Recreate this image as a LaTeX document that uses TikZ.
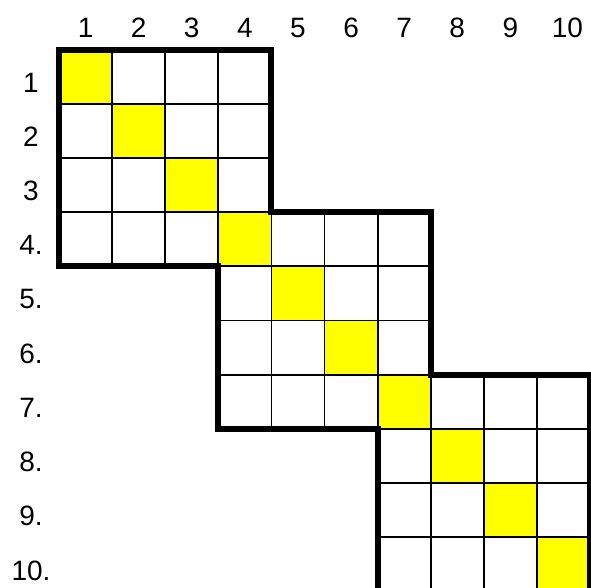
\documentclass[tikz,border=0pt]{standalone}
\usepackage{fontspec}
\setmainfont{Liberation Sans}
\definecolor{cellyellow}{HTML}{FFFF00}
\begin{document}
\begin{tikzpicture}[x=1pt,y=-1pt,
  cellline/.style={draw=black,line width=1.8pt},
  diagcell/.style={fill=cellyellow},
  blockline/.style={draw=black,line width=6pt,line join=miter,line cap=rect},
  lbl/.style={inner sep=0pt,font=\fontsize{28}{30}\selectfont}]
\useasboundingbox (0,0) rectangle (591,587);
\fill[white] (0,0) rectangle (591,587);
\pgfmathsetmacro{\cw}{53.1}
\pgfmathsetmacro{\ch}{54.2}
\pgfmathsetmacro{\xo}{59}
\pgfmathsetmacro{\yo}{49.5}
% diagonal yellow cells
\foreach \k in {0,...,9}{
  \fill[diagcell] ({\xo+\k*\cw},{\yo+\k*\ch}) rectangle ({\xo+(\k+1)*\cw},{\yo+(\k+1)*\ch});
}
% grid cells of the three blocks
\foreach \b in {0,1,2}{
  \foreach \i in {0,...,3}{
    \foreach \j in {0,...,3}{
      \path[cellline] ({\xo+(3*\b+\j)*\cw},{\yo+(3*\b+\i)*\ch}) rectangle ({\xo+(3*\b+\j+1)*\cw},{\yo+(3*\b+\i+1)*\ch});
    }
  }
}
% block outline
\path[blockline] ({\xo},{\yo+10*\ch+20}) coordinate (dummy);
\path[blockline]
  ({\xo},{\yo+4*\ch}) -- ({\xo},{\yo}) -- ({\xo+4*\cw},{\yo}) -- ({\xo+4*\cw},{\yo+3*\ch})
  -- ({\xo+7*\cw},{\yo+3*\ch}) -- ({\xo+7*\cw},{\yo+6*\ch}) -- ({\xo+10*\cw},{\yo+6*\ch})
  -- ({\xo+10*\cw},{\yo+10*\ch+10});
\path[blockline]
  ({\xo},{\yo+4*\ch}) -- ({\xo+3*\cw},{\yo+4*\ch}) -- ({\xo+3*\cw},{\yo+7*\ch})
  -- ({\xo+6*\cw},{\yo+7*\ch}) -- ({\xo+6*\cw},{\yo+10*\ch+10});
% column labels
\foreach \k in {1,...,9}{
  \node[lbl] (c\k) at ({\xo+(\k-0.5)*\cw},28) {\k};
}
\node[lbl] (c10) at ({\xo+9.5*\cw+4},28) {10};
% row labels
\foreach \k/\t in {1/1,2/2,3/3,4/4.,5/5.,6/6.,7/7.,8/8.,9/9.,10/10.}{
  \node[lbl] (r\k) at (31,{\yo+(\k-0.5)*\ch+6}) {\t};
}
\end{tikzpicture}
\end{document}
